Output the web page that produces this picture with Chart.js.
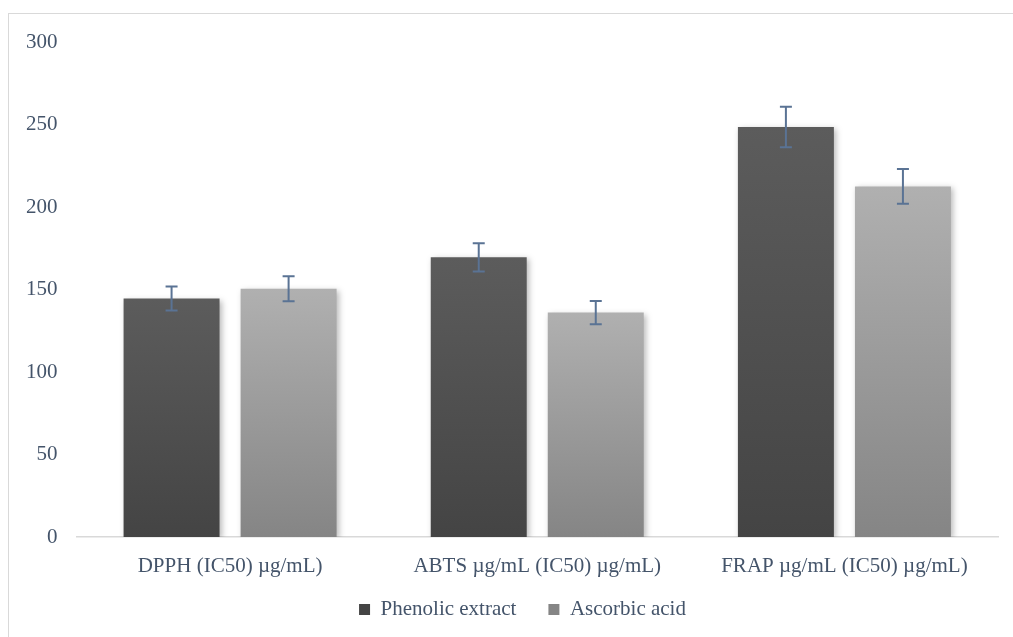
<!DOCTYPE html>
<html>
<head>
<meta charset="utf-8">
<script src="https://cdn.jsdelivr.net/npm/chart.js@4.4.0/dist/chart.umd.min.js"></script>
<style>
  body { margin: 0; background: #ffffff; }
  #frame {
    position: absolute; left: 8px; top: 13px; width: 1005px; height: 624px;
    border-left: 1.5px solid #d9d9d9; border-top: 1.5px solid #d9d9d9;
  }
  #wrap { position: absolute; left: 0; top: 0; width: 1013px; height: 637px; }
</style>
</head>
<body>
<div id="frame"></div>
<div id="wrap"><canvas id="antioxChart"></canvas></div>
<script>
/* Chart data */
var categories = ['DPPH (IC50) µg/mL)', 'ABTS µg/mL (IC50) µg/mL)', 'FRAP µg/mL (IC50) µg/mL)'];
var seriesNames = ['Phenolic extract', 'Ascorbic acid'];
var phenolicValues = [144.5, 169.5, 248.5];
var phenolicErrors = [7.3, 8.6, 12.3];
var ascorbicValues = [150.5, 136, 212.5];
var ascorbicErrors = [7.6, 7, 10.6];
var yTicks = [0, 50, 100, 150, 200, 250, 300];

var textColor = '#44546a';
var fontFamily = '"Liberation Serif", "Times New Roman", serif';

/* Vertical gradient for each bar, from its top down to the axis */
function barGradient(top, bottom, fallback) {
    return function (ctx) {
        var chart = ctx.chart;
        if (ctx.type !== 'data' || !chart.chartArea || !chart.scales.y)
            return fallback;
        var yScale = chart.scales.y;
        var y0 = yScale.getPixelForValue(ctx.raw);
        var y1 = yScale.getPixelForValue(0);
        var g = chart.ctx.createLinearGradient(0, y0, 0, y1);
        g.addColorStop(0, top);
        g.addColorStop(1, bottom);
        return g;
    };
}

/* Soft shadow under the bars */
var barShadow = {
    id: 'barShadow',
    beforeDatasetsDraw: function (chart) {
        var c = chart.ctx;
        c.save();
        c.shadowColor = 'rgba(0, 0, 0, 0.28)';
        c.shadowBlur = 6;
        c.shadowOffsetX = 2;
        c.shadowOffsetY = 2;
    },
    afterDatasetsDraw: function (chart) {
        chart.ctx.restore();
    }
};

/* Pull the legend a bit closer to the axis labels (its padding also sets item spacing) */
var legendNudge = {
    id: 'legendNudge',
    afterLayout: function (chart) {
        var lg = chart.legend;
        if (!lg) return;
        lg.top -= 14;
        lg.bottom -= 14;
        lg.left += 20;
        lg.right += 20;
    }
};

/* Error bars drawn through the y scale */
var errorBars = {
    id: 'errorBars',
    afterDatasetsDraw: function (chart) {
        var c = chart.ctx;
        var yScale = chart.scales.y;
        c.save();
        c.strokeStyle = '#5a7394';
        c.lineWidth = 2;
        chart.data.datasets.forEach(function (ds, di) {
            var meta = chart.getDatasetMeta(di);
            meta.data.forEach(function (bar, i) {
                var v = ds.data[i];
                var e = ds.errors[i];
                var yTop = yScale.getPixelForValue(v + e);
                var yBot = yScale.getPixelForValue(v - e);
                var x = bar.x;
                c.beginPath();
                c.moveTo(x, yTop); c.lineTo(x, yBot);
                c.moveTo(x - 6, yTop); c.lineTo(x + 6, yTop);
                c.moveTo(x - 6, yBot); c.lineTo(x + 6, yBot);
                c.stroke();
            });
        });
        c.restore();
    }
};

var ctx = document.getElementById('antioxChart').getContext('2d');
var chart = new Chart(ctx, {
    type: 'bar',
    data: {
        labels: categories,
        datasets: [{
            label: seriesNames[0],
            data: phenolicValues,
            errors: phenolicErrors,
            backgroundColor: barGradient('#5c5c5c', '#444444', '#545454'),
            borderWidth: 0
        }, {
            label: seriesNames[1],
            data: ascorbicValues,
            errors: ascorbicErrors,
            backgroundColor: barGradient('#b0b0b0', '#858585', '#a3a3a3'),
            borderWidth: 0
        }]
    },
    options: {
        responsive: true,
        maintainAspectRatio: false,
        animation: false,
        categoryPercentage: 0.762,
        barPercentage: 0.82,
        layout: { padding: { left: 7, right: 15, top: 42, bottom: -7 } },
        scales: {
            x: {
                grid: { display: false, drawTicks: false },
                border: { display: true, color: '#d9d9d9', width: 1.5 },
                ticks: { color: textColor, font: { family: fontFamily, size: 21 }, padding: 17, maxRotation: 0 },
                afterFit: function (scale) { scale.height = 44; }
            },
            y: {
                min: 0,
                max: 300,
                afterBuildTicks: function (axis) {
                    axis.ticks = yTicks.map(function (v) { return { value: v }; });
                },
                grid: { display: false, drawTicks: false },
                border: { display: false },
                ticks: { color: textColor, font: { family: fontFamily, size: 21 }, padding: 19 }
            }
        },
        plugins: {
            legend: {
                position: 'bottom',
                labels: {
                    color: textColor,
                    font: { family: fontFamily, size: 21 },
                    boxWidth: 11,
                    boxHeight: 11,
                    padding: 32
                }
            },
            tooltip: { enabled: false }
        }
    },
    plugins: [barShadow, legendNudge, errorBars]
});
</script>
</body>
</html>
